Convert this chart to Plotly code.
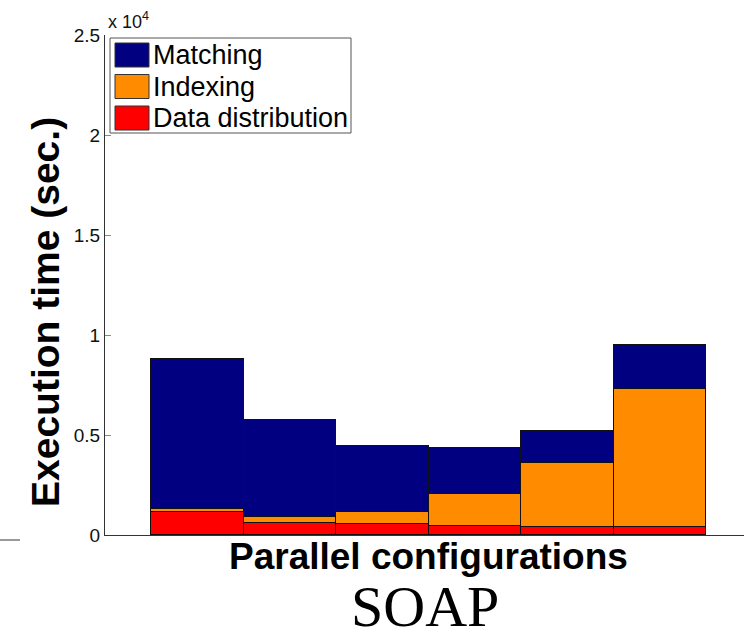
import plotly.graph_objects as go

# Parallel configuration index (six runs)
configs = [1, 2, 3, 4, 5, 6]

# Execution time components in seconds, stacked bottom to top
series_names = ["Data distribution", "Indexing", "Matching"]
data_distribution = [1150, 600, 530, 450, 420, 390]
indexing = [165, 317, 635, 1600, 3165, 6900]
matching = [7470, 4833, 3285, 2283, 1615, 2200]
series_colors = ["#ff0000", "#ff8c00", "#000080"]

y_tick_vals = [0, 5000, 10000, 15000, 20000, 25000]
y_tick_text = ["0", "0.5", "1", "1.5", "2", "2.5"]

W, H = 744, 642
L, R, T, B = 105, 0, 35, 107
plot_w = W - L - R
plot_h = H - T - B


def px(x):
    return (x - L) / plot_w


def py(y):
    return (H - B - y) / plot_h


fig = go.Figure()
for name, vals, col in zip(series_names,
                           [data_distribution, indexing, matching],
                           series_colors):
    fig.add_trace(go.Bar(
        x=configs, y=vals, name=name, width=1.0,
        marker=dict(color=col, line=dict(color="#111", width=1.2)),
        showlegend=False,
    ))

fig.update_layout(
    width=W, height=H,
    margin=dict(l=L, r=R, t=T, b=B, pad=0),
    barmode="stack",
    bargap=0,
    plot_bgcolor="white",
    paper_bgcolor="white",
    font=dict(family="Liberation Sans, Arial, sans-serif", color="#111"),
    xaxis=dict(
        range=[0, 6.908], showticklabels=False, ticks="",
        showgrid=False, zeroline=False,
        showline=True, linecolor="#333", linewidth=1,
    ),
    yaxis=dict(
        range=[0, 25000], tickvals=y_tick_vals, ticktext=y_tick_text,
        ticks="inside", ticklen=6, tickcolor="#888", tickwidth=1,
        tickfont=dict(size=19, color="#111"),
        showgrid=False, zeroline=False,
        showline=True, linecolor="#333", linewidth=1,
    ),
)

annotations = [
    dict(text="x 10<sup>4</sup>", x=px(106), y=py(21), xref="paper", yref="paper",
         xanchor="left", yanchor="middle", showarrow=False,
         font=dict(size=18, color="#111")),
    dict(text="<b>Execution time (sec.)</b>", x=px(45), y=py(312),
         xref="paper", yref="paper", textangle=-90, showarrow=False,
         xanchor="center", yanchor="middle",
         font=dict(size=39, color="#000")),
    dict(text="<b>Parallel configurations</b>", x=px(428), y=py(556),
         xref="paper", yref="paper", showarrow=False,
         xanchor="center", yanchor="middle",
         font=dict(size=37, color="#000")),
    dict(text="SOAP", x=px(425), y=py(641), xref="paper", yref="paper",
         showarrow=False, xanchor="center", yanchor="bottom",
         font=dict(size=58, color="#000",
                   family="Liberation Serif, Times New Roman, serif")),
]

shapes = [
    # legend frame
    dict(type="rect", xref="paper", yref="paper",
         x0=px(110), x1=px(351), y0=py(38), y1=py(133),
         line=dict(color="#555", width=1), fillcolor="white", layer="above"),
    # stray axis stub at lower left
    dict(type="line", xref="paper", yref="paper",
         x0=px(0), x1=px(20), y0=py(540), y1=py(540),
         line=dict(color="#999", width=2)),
]

# legend entries, top row first
legend_rows = list(zip(series_names, series_colors))[::-1]
for i, (name, col) in enumerate(legend_rows):
    top = 43 + i * 31.5
    shapes.append(dict(type="rect", xref="paper", yref="paper",
                       x0=px(115), x1=px(149), y0=py(top), y1=py(top + 24),
                       line=dict(color="#333", width=1), fillcolor=col,
                       layer="above"))
    annotations.append(dict(text=name, x=px(151), y=py(top + 12),
                            xref="paper", yref="paper", showarrow=False,
                            xanchor="left", yanchor="middle",
                            font=dict(size=27, color="#000")))

fig.update_layout(annotations=annotations, shapes=shapes)

fig.write_html("out.html")
